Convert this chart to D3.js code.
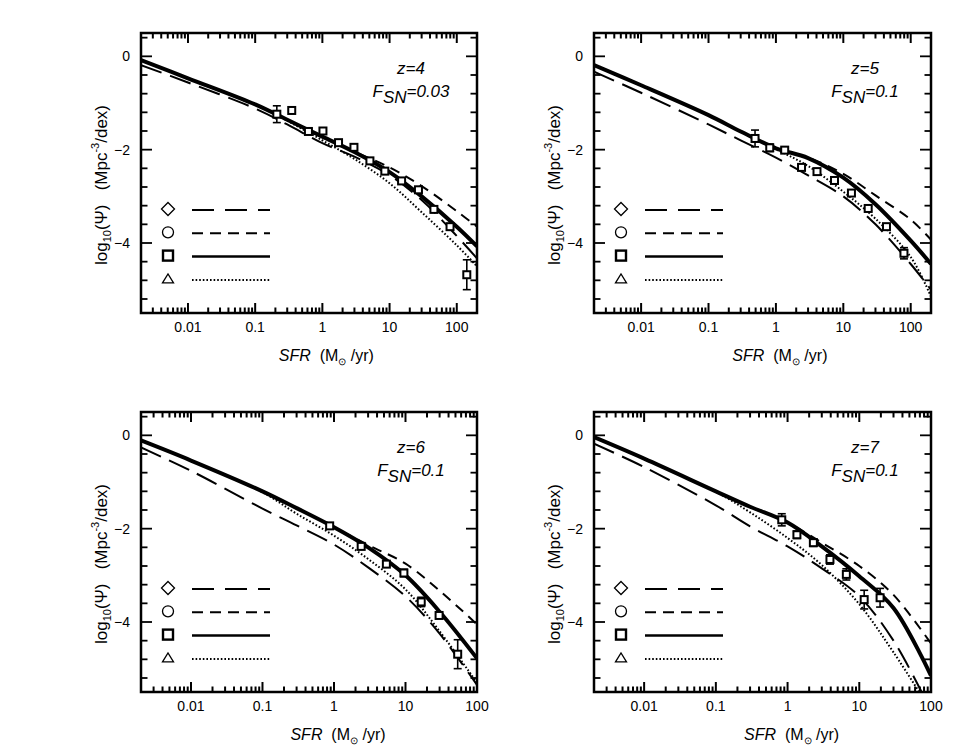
<!DOCTYPE html>
<html><head><meta charset="utf-8">
<script src="https://cdn.jsdelivr.net/npm/d3@7"></script>
<style>body{margin:0;background:#fff;} svg{display:block;} text{font-family:"Liberation Sans",Arial,Helvetica,sans-serif;fill:#000;}</style>
</head><body>
<svg id="chart" width="953" height="745"></svg>
<script>
// ---------------- data ----------------
const redshiftLabels = ["z=4", "z=5", "z=6", "z=7"];
const fsnLabels = ["0.03", "0.1", "0.1", "0.1"];
const xTickValues = [0.01, 0.1, 1, 10, 100];
const yTickValues = [0, -2, -4];
const sfrMin = 0.002;
const sfrMaxPerPanel = [200, 200, 100, 100];

// model curve SFR grids
const sfrGridWide = [0.002, 0.01, 0.1, 0.3, 1, 3, 10, 30, 100, 200];
const sfrGridNarrow = [0.002, 0.01, 0.1, 0.3, 1, 3, 10, 30, 100];

// log10(Psi) of the four models: long dash (diamond), short dash (circle), solid (square), dotted (triangle)
const z4LongDash  = [-0.19, -0.56, -1.12, -1.46, -1.86, -2.15, -2.55, -3.08, -3.85, -4.33];
const z4ShortDash = [-0.08, -0.47, -1.03, -1.36, -1.72, -2.04, -2.38, -2.78, -3.32, -3.65];
const z4Solid     = [-0.08, -0.47, -1.03, -1.36, -1.72, -2.05, -2.48, -3.00, -3.65, -4.07];
const z4Dotted    = [-0.08, -0.47, -1.03, -1.38, -1.80, -2.20, -2.72, -3.34, -4.05, -4.50];

const z5LongDash  = [-0.33, -0.78, -1.46, -1.80, -2.17, -2.55, -3.00, -3.60, -4.45, -5.00];
const z5ShortDash = [-0.19, -0.62, -1.26, -1.61, -1.97, -2.17, -2.52, -2.98, -3.50, -3.93];
const z5Solid     = [-0.19, -0.62, -1.26, -1.61, -1.97, -2.18, -2.60, -3.17, -3.95, -4.45];
const z5Dotted    = [-0.19, -0.62, -1.26, -1.61, -1.99, -2.35, -2.90, -3.48, -4.30, -5.15];

const z6LongDash  = [-0.26, -0.76, -1.57, -1.93, -2.34, -2.83, -3.45, -4.25, -5.35];
const z6ShortDash = [-0.11, -0.54, -1.20, -1.56, -1.97, -2.35, -2.75, -3.33, -4.05];
const z6Solid     = [-0.11, -0.54, -1.20, -1.56, -1.97, -2.40, -3.00, -3.78, -4.78];
const z6Dotted    = [-0.11, -0.54, -1.22, -1.68, -2.15, -2.65, -3.30, -4.20, -5.30];

const z7LongDash  = [-0.18, -0.68, -1.50, -1.95, -2.38, -2.85, -3.45, -4.40, -5.90];
const z7ShortDash = [-0.04, -0.50, -1.20, -1.53, -1.87, -2.30, -2.80, -3.42, -4.46];
const z7Solid     = [-0.04, -0.50, -1.20, -1.53, -1.87, -2.38, -3.02, -3.70, -5.15];
const z7Dotted    = [-0.04, -0.50, -1.21, -1.65, -2.20, -2.78, -3.62, -4.65, -5.90];

// observed points: SFR, log10(Psi), error
const z4ObsSFR = [0.21, 0.35, 0.62, 1.02, 1.74, 2.95, 5.1, 8.5, 15.1, 26.9, 45.7, 79.4, 141];
const z4ObsPsi = [-1.24, -1.16, -1.61, -1.60, -1.85, -1.95, -2.24, -2.46, -2.67, -2.86, -3.28, -3.65, -4.68];
const z4ObsErr = [0.18, 0, 0.05, 0.05, 0, 0, 0.05, 0, 0.05, 0.05, 0.05, 0.05, 0.32];

const z5ObsSFR = [0.49, 0.81, 1.35, 2.4, 4.07, 7.4, 13.2, 23.4, 43.7, 79.4];
const z5ObsPsi = [-1.76, -1.96, -2.01, -2.38, -2.47, -2.66, -2.93, -3.26, -3.65, -4.22];
const z5ObsErr = [0.18, 0.08, 0.05, 0.05, 0.05, 0.05, 0.05, 0.05, 0.05, 0.12];

const z6ObsSFR = [0.87, 2.4, 5.4, 9.5, 16.6, 29.5, 53.7];
const z6ObsPsi = [-1.94, -2.38, -2.76, -2.95, -3.57, -3.86, -4.69];
const z6ObsErr = [0.05, 0.05, 0.05, 0.08, 0.1, 0.06, 0.31];

const z7ObsSFR = [0.83, 1.35, 2.29, 3.9, 6.6, 11.7, 19.5];
const z7ObsPsi = [-1.81, -2.13, -2.30, -2.66, -2.98, -3.52, -3.48];
const z7ObsErr = [0.13, 0.08, 0.08, 0.1, 0.12, 0.2, 0.2];

// ---------------- layout ----------------
const panelData = [
  {grid: sfrGridWide, curves: [z4LongDash, z4ShortDash, z4Solid, z4Dotted], obs: [z4ObsSFR, z4ObsPsi, z4ObsErr]},
  {grid: sfrGridWide, curves: [z5LongDash, z5ShortDash, z5Solid, z5Dotted], obs: [z5ObsSFR, z5ObsPsi, z5ObsErr]},
  {grid: sfrGridNarrow, curves: [z6LongDash, z6ShortDash, z6Solid, z6Dotted], obs: [z6ObsSFR, z6ObsPsi, z6ObsErr]},
  {grid: sfrGridNarrow, curves: [z7LongDash, z7ShortDash, z7Solid, z7Dotted], obs: [z7ObsSFR, z7ObsPsi, z7ObsErr]}
];
const colX = [[141, 477], [594, 931]];
const rowY = [[33, 313], [412, 692]];
const curveStyles = [
  {dash: "22,9", width: 2},
  {dash: "10,7", width: 2},
  {dash: null, width: 4},
  {dash: "1.6,2", width: 2}
];

const svg = d3.select("#chart");

function seg(parent, xa, ya, xb, yb, w) {
  parent.append("line").attr("x1", xa).attr("y1", ya).attr("x2", xb).attr("y2", yb)
    .style("stroke", "#000").style("stroke-width", w + "px");
}

panelData.forEach((pd, i) => {
  const [x0, x1] = colX[i % 2];
  const [y0, y1] = rowY[Math.floor(i / 2)];
  const x = d3.scaleLog().domain([sfrMin, sfrMaxPerPanel[i]]).range([x0, x1]);
  const y = d3.scaleLinear().domain([-5.5, 0.5]).range([y1, y0]);
  const g = svg.append("g");

  const clipId = "clip" + i;
  svg.append("clipPath").attr("id", clipId).append("rect")
    .attr("x", x0).attr("y", y0).attr("width", x1 - x0).attr("height", y1 - y0);

  // tick labels
  xTickValues.forEach(v => {
    g.append("text").attr("x", x(v)).attr("y", y1 + 19).attr("text-anchor", "middle")
      .attr("font-size", 14).text(v);
  });
  yTickValues.forEach(v => {
    g.append("text").attr("x", x0 - 11).attr("y", y(v) + 5).attr("text-anchor", "end")
      .attr("font-size", 14).text(v === 0 ? "0" : "\u2212" + Math.abs(v));
  });

  // axis titles
  const xl = g.append("text").attr("x", x(1) + 4).attr("y", y1 + 48).attr("text-anchor", "middle").attr("font-size", 16);
  xl.append("tspan").attr("font-style", "italic").text("SFR");
  xl.append("tspan").text("\u00a0\u00a0(M");
  xl.append("tspan").attr("font-size", 10).attr("dy", 4).text("\u2299");
  xl.append("tspan").attr("dy", -4).text(" /yr)");

  const yl = g.append("text").attr("transform", `translate(${x0 - 34},${(y0 + y1) / 2 + 12}) rotate(-90)`)
    .attr("text-anchor", "middle").attr("font-size", 17);
  yl.append("tspan").text("log");
  yl.append("tspan").attr("font-size", 11).attr("dy", 4).text("10");
  yl.append("tspan").attr("dy", -4).text("(\u03A8)\u00a0\u00a0\u00a0(Mpc");
  yl.append("tspan").attr("font-size", 11).attr("dy", -8).text("-3");
  yl.append("tspan").attr("dy", 8).text("/dex)");

  // annotations
  const cx = x1 - 66;
  g.append("text").attr("x", cx).attr("y", y0 + 41).attr("text-anchor", "middle")
    .attr("font-size", 17).attr("font-style", "italic").text(redshiftLabels[i]);
  const ft = g.append("text").attr("x", cx).attr("y", y0 + 64).attr("text-anchor", "middle")
    .attr("font-size", 17).attr("font-style", "italic");
  ft.append("tspan").text("F");
  ft.append("tspan").attr("dy", 6).text("SN");
  ft.append("tspan").attr("dy", -6).text("=" + fsnLabels[i]);

  // curves
  const line = d3.line().x(d => x(d[0])).y(d => y(d[1])).curve(d3.curveCatmullRom.alpha(0.5));
  const cg = g.append("g").attr("clip-path", `url(#${clipId})`);
  [0, 1, 3, 2].forEach(ci => {
    const pts = pd.grid.map((s, k) => [s, pd.curves[ci][k]]);
    const st = curveStyles[ci];
    const p = cg.append("path").attr("d", line(pts)).attr("fill", "none").attr("stroke", "#000")
      .attr("stroke-width", st.width);
    if (st.dash) p.attr("stroke-dasharray", st.dash);
  });

  // observations
  const [os, op, oe] = pd.obs;
  const og = g.append("g");
  os.forEach((s, k) => {
    const px = x(s), py = y(op[k]);
    if (oe[k] > 0) {
      const ya = y(op[k] + oe[k]), yb = y(op[k] - oe[k]);
      seg(og, px, ya, px, yb, 1.6);
      seg(og, px - 4, ya, px + 4, ya, 1.6);
      seg(og, px - 4, yb, px + 4, yb, 1.6);
    }
    og.append("rect").attr("x", px - 3.5).attr("y", py - 3.5).attr("width", 7).attr("height", 7)
      .attr("fill", "#fff").attr("stroke", "#000").attr("stroke-width", 2);
  });

  // legend
  const lx = x0 + 27, ly = y0 + 176, dy = 23.3;
  const lg = g.append("g");
  lg.append("path").attr("d", `M${lx},${ly - 6.5} L${lx + 6.5},${ly} L${lx},${ly + 6.5} L${lx - 6.5},${ly} Z`)
    .attr("fill", "none").attr("stroke", "#000").attr("stroke-width", 1.3);
  lg.append("circle").attr("cx", lx).attr("cy", ly + dy).attr("r", 5.5).attr("fill", "none").attr("stroke", "#000").attr("stroke-width", 1.3);
  lg.append("rect").attr("x", lx - 5).attr("y", ly + 2 * dy - 5).attr("width", 10).attr("height", 10)
    .attr("fill", "none").attr("stroke", "#000").attr("stroke-width", 2.4);
  lg.append("path").attr("d", `M${lx - 5.5},${ly + 3 * dy + 4} L${lx},${ly + 3 * dy - 5} L${lx + 5.5},${ly + 3 * dy + 4} Z`)
    .attr("fill", "none").attr("stroke", "#000").attr("stroke-width", 1.3);
  const legStyles = [{dash: "22,11", w: 2}, {dash: "11,7", w: 2}, {dash: null, w: 2.5}, {dash: "1.6,2", w: 2}];
  legStyles.forEach((st, k) => {
    const l = lg.append("line").attr("x1", lx + 24).attr("x2", lx + 102).attr("y1", ly + k * dy + 1).attr("y2", ly + k * dy + 1)
      .attr("stroke", "#000").attr("stroke-width", st.w);
    if (st.dash) l.attr("stroke-dasharray", st.dash);
  });

  // ticks (inward, all four sides)
  const tk = g.append("g");
  for (let d = -3; d <= 3; d++) {
    for (let m = 1; m <= 9; m++) {
      const v = m * Math.pow(10, d);
      if (v >= sfrMin * 0.999 && v <= sfrMaxPerPanel[i] * 1.001) {
        const px = x(v);
        const len = (m === 1) ? 10 : 5.5;
        seg(tk, px, y1, px, y1 - len, 2);
        seg(tk, px, y0, px, y0 + len, 2);
      }
    }
  }
  for (let k = 0; k <= 14; k++) {
    const v = 0.4 - 0.4 * k;
    const major = (k === 1 || k === 6 || k === 11);
    const py = y(v);
    const len = major ? 11 : 6.5;
    seg(tk, x0, py, x0 + len, py, 1.8);
    seg(tk, x1, py, x1 - len, py, 1.8);
  }

  // frame
  g.append("rect").attr("x", x0).attr("y", y0).attr("width", x1 - x0).attr("height", y1 - y0)
    .attr("fill", "none").attr("stroke", "#000").attr("stroke-width", 2.5);
});
</script>
</body></html>
